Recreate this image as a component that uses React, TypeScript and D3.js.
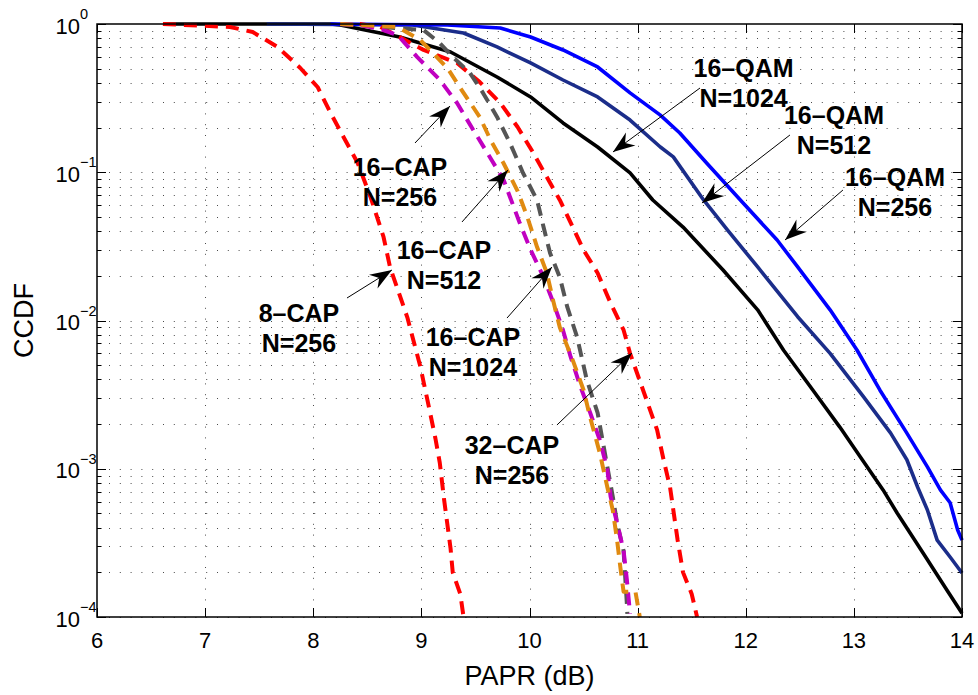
import React from 'react';
import * as d3 from 'd3';

// ---------- data ----------
const xTicks = [6, 7, 8, 9, 10, 11, 12, 13, 14];
const yTickExps = [0, -1, -2, -3, -4];

const qam256X = [8.16, 9.24, 9.73, 10.01, 10.31, 10.63, 10.93, 11.21, 11.39, 11.64, 11.95, 12.29, 12.48, 12.78, 13.03, 13.24, 13.49, 13.68, 13.8, 13.89, 13.96, 14.0];
const qam256Y = [1, 0.985, 0.94, 0.817, 0.668, 0.513, 0.343, 0.243, 0.184, 0.115, 0.065, 0.0349, 0.023, 0.0118, 0.0063, 0.0034, 0.00174, 0.00103, 0.00072, 0.00059, 0.000386, 0.00033];

const qam512X = [7.57, 8.92, 9.39, 9.7, 10.01, 10.31, 10.63, 10.93, 11.21, 11.33, 11.61, 11.83, 12.11, 12.48, 12.78, 13.09, 13.34, 13.49, 13.59, 13.68, 13.77, 13.89, 14.0];
const qam512Y = [1, 0.985, 0.87, 0.7, 0.546, 0.419, 0.322, 0.225, 0.148, 0.127, 0.065, 0.0408, 0.023, 0.0106, 0.006, 0.00305, 0.00174, 0.00115, 0.00075, 0.000527, 0.00033, 0.000254, 0.000198];

const qam1024X = [6.61, 8.16, 8.25, 8.8, 9.27, 9.7, 10.01, 10.31, 10.63, 10.93, 11.14, 11.42, 11.79, 12.11, 12.35, 12.62, 12.87, 13.06, 13.27, 13.4, 13.64, 13.86, 14.0];
const qam1024Y = [1, 1, 0.985, 0.817, 0.647, 0.439, 0.322, 0.215, 0.148, 0.0989, 0.065, 0.0427, 0.0219, 0.0118, 0.0063, 0.0034, 0.00191, 0.0012, 0.00072, 0.000503, 0.00027, 0.000152, 0.000106];

const cap8X = [6.61, 7.23, 7.44, 7.67, 7.88, 8.04, 8.16, 8.28, 8.41, 8.53, 8.65, 8.71, 8.87, 8.99, 9.08, 9.13, 9.17, 9.21, 9.27, 9.29, 9.36, 9.39];
const cap8Y = [1, 0.955, 0.883, 0.7, 0.505, 0.376, 0.251, 0.173, 0.116, 0.068, 0.0366, 0.0229, 0.0105, 0.0049, 0.0024, 0.0016, 0.0011, 0.00062, 0.00029, 0.0002, 0.000143, 0.0001];

const cap16n256X = [8.25, 8.43, 8.62, 8.78, 8.96, 9.17, 9.33, 9.48, 9.61, 9.76, 9.91, 10.01, 10.13, 10.22, 10.31, 10.38, 10.47, 10.56, 10.65, 10.72, 10.75, 10.81, 10.87, 10.9, 10.93];
const cap16n256Y = [1, 0.985, 0.925, 0.843, 0.6, 0.42, 0.293, 0.193, 0.135, 0.089, 0.0454, 0.03, 0.0196, 0.0132, 0.0086, 0.0057, 0.0036, 0.0024, 0.00156, 0.00099, 0.00065, 0.00043, 0.00028, 0.00018, 0.000105];

const cap16n512X = [8.25, 8.78, 8.99, 9.24, 9.39, 9.54, 9.64, 9.76, 9.89, 9.98, 10.07, 10.16, 10.22, 10.28, 10.4, 10.5, 10.56, 10.65, 10.72, 10.77, 10.81, 10.84, 10.87, 10.98, 11.02];
const cap16n512Y = [1, 0.955, 0.78, 0.505, 0.343, 0.236, 0.165, 0.115, 0.0747, 0.0499, 0.0313, 0.021, 0.0135, 0.009, 0.0054, 0.0034, 0.00223, 0.00128, 0.00075, 0.000527, 0.00033, 0.000217, 0.000148, 0.000148, 0.0001];

const cap16n1024X = [8.25, 9.02, 9.17, 9.29, 9.45, 9.57, 9.7, 9.82, 9.94, 10.07, 10.13, 10.19, 10.28, 10.35, 10.44, 10.53, 10.63, 10.72, 10.77, 10.81, 10.87, 10.9, 10.905];
const cap16n1024Y = [1, 0.911, 0.744, 0.6, 0.467, 0.343, 0.236, 0.157, 0.0989, 0.065, 0.0427, 0.0285, 0.0196, 0.0123, 0.00774, 0.00397, 0.00238, 0.00103, 0.00065, 0.00043, 0.00028, 0.000124, 0.000105];

const cap32X = [8.43, 8.62, 8.8, 9.02, 9.33, 9.54, 9.73, 9.89, 10.03, 10.16, 10.28, 10.4, 10.5, 10.63, 10.75, 10.87, 10.93, 11.05, 11.18, 11.24, 11.3, 11.37, 11.42, 11.5, 11.55];
const cap32Y = [1, 0.955, 0.817, 0.668, 0.546, 0.406, 0.293, 0.202, 0.137, 0.0929, 0.065, 0.0427, 0.0299, 0.0209, 0.0131, 0.00863, 0.006, 0.0034, 0.00183, 0.00115, 0.00075, 0.00033, 0.0002, 0.000143, 0.0001];

// annotation labels and anchor points in data coordinates
const annLines = [
  ['16–QAM', 'N=1024'],
  ['16–QAM', 'N=512'],
  ['16–QAM', 'N=256'],
  ['16–CAP', 'N=256'],
  ['16–CAP', 'N=512'],
  ['16–CAP', 'N=1024'],
  ['32–CAP', 'N=256'],
  ['8–CAP', 'N=256'],
];
const annTextX = [11.98, 12.816, 13.38, 8.802, 9.209, 9.477, 9.838, 7.868];
const annTextY = [0.505, 0.2433, 0.0929, 0.1085, 0.0299, 0.00774, 0.001446, 0.01123];
const annFromX = [11.577, 12.409, 12.899, 8.941, 9.376, 9.792, 10.254, 8.312];
const annFromY = [0.37, 0.1784, 0.0759, 0.1575, 0.0462, 0.01039, 0.001973, 0.01418];
const annToX = [10.772, 11.595, 12.363, 9.265, 9.801, 10.208, 10.948, 8.728];
const annToY = [0.137, 0.062, 0.0349, 0.2798, 0.1035, 0.02296, 0.006036, 0.02191];

// ---------- styles ----------
const series = [
  { x: qam1024X, y: qam1024Y, color: '#000000', dashed: false },
  { x: qam512X, y: qam512Y, color: '#1b2d8a', dashed: false },
  { x: qam256X, y: qam256Y, color: '#0000ff', dashed: false },
  { x: cap8X, y: cap8Y, color: '#ff0000', dashed: true },
  { x: cap32X, y: cap32Y, color: '#ff0000', dashed: true },
  { x: cap16n1024X, y: cap16n1024Y, color: '#555555', dashed: true },
  { x: cap16n256X, y: cap16n256Y, color: '#c000c0', dashed: true },
  { x: cap16n512X, y: cap16n512Y, color: '#e08a10', dashed: true },
];

const W = 978;
const H = 695;
const L = 97;
const R = 962;
const T = 24;
const B = 617;
const FONT = "'Liberation Sans', Arial, Helvetica, sans-serif";

export default function App() {
  const x = d3.scaleLinear().domain([6, 14]).range([L, R]);
  const y = d3.scaleLog().domain([1e-4, 1]).range([B, T]);

  const line = d3
    .line<[number, number]>()
    .x((d) => x(d[0]))
    .y((d) => y(d[1]))
    .curve(d3.curveLinear);

  const minorY: number[] = [];
  for (let k = -4; k < 0; k++) {
    for (let m = 1; m <= 9; m++) minorY.push(m * Math.pow(10, k));
  }

  const arrowHead = (x1: number, y1: number, x2: number, y2: number) => {
    const ang = Math.atan2(y2 - y1, x2 - x1);
    const len = 22;
    const w = 8;
    const notch = 15;
    const c = Math.cos(ang);
    const s = Math.sin(ang);
    const p = (a: number, b: number) => [x2 + a * c - b * s, y2 + a * s + b * c];
    const pts = [p(0, 0), p(-len, w), p(-notch, 0), p(-len, -w)];
    return 'M' + pts.map((q) => q[0].toFixed(2) + ',' + q[1].toFixed(2)).join('L') + 'Z';
  };

  return (
    <svg
      width={W}
      height={H}
      style={{ position: 'absolute', left: 0, top: 0, background: '#fff' }}
      fontFamily={FONT}
    >
      <rect x={0} y={0} width={W} height={H} fill="#fff" />
      {/* grid */}
      <g stroke="#000" strokeWidth={1} strokeDasharray="1 9.8" opacity={0.7}>
        {minorY.map((v, i) => {
          const yy = Math.round(y(v)) + 0.5;
          return <line key={'gy' + i} x1={L + 12} x2={R} y1={yy} y2={yy} />;
        })}
        {xTicks.slice(1, -1).map((v) => {
          const xx = Math.round(x(v)) + 0.5;
          return <line key={'gx' + v} x1={xx} x2={xx} y1={T + 3} y2={B} />;
        })}
      </g>
      {/* ticks */}
      <g stroke="#000" strokeWidth={1}>
        {xTicks.map((v) => {
          const xx = Math.round(x(v)) + 0.5;
          return (
            <g key={'tx' + v}>
              <line x1={xx} x2={xx} y1={B} y2={B - 9} />
              <line x1={xx} x2={xx} y1={T} y2={T + 9} />
            </g>
          );
        })}
        {minorY.concat([1]).map((v, i) => {
          const yy = Math.round(y(v)) + 0.5;
          const major = Math.abs(Math.log10(v) - Math.round(Math.log10(v))) < 1e-9;
          const len = major ? 9 : 4.5;
          return (
            <g key={'ty' + i}>
              <line x1={L} x2={L + len} y1={yy} y2={yy} />
              <line x1={R} x2={R - len} y1={yy} y2={yy} />
            </g>
          );
        })}
      </g>
      {/* curves */}
      {series.map((s, i) => {
        const pts = s.x.map((xv, j) => [xv, s.y[j]] as [number, number]);
        return (
          <path
            key={'s' + i}
            d={line(pts) || ''}
            fill="none"
            stroke={s.color}
            strokeWidth={s.dashed ? 4 : 3.6}
            strokeDasharray={s.dashed ? '13 8' : undefined}
            strokeLinejoin="round"
          />
        );
      })}
      {/* axes box */}
      <rect x={L} y={T} width={R - L} height={B - T} fill="none" stroke="#000" strokeWidth={1.5} />
      {/* x tick labels */}
      {xTicks.map((v) => (
        <text key={'lx' + v} x={x(v)} y={648} fontSize={22} textAnchor="middle" fill="#000">
          {v}
        </text>
      ))}
      {/* y tick labels */}
      {yTickExps.map((e) => {
        const yy = y(Math.pow(10, e));
        return (
          <g key={'ly' + e}>
            <text x={80} y={yy + 9.5} fontSize={22} textAnchor="end" fill="#000">
              10
            </text>
            <text x={80} y={yy - 5} fontSize={14.5} textAnchor="start" fill="#000">
              {e === 0 ? '0' : '\u2212' + Math.abs(e)}
            </text>
          </g>
        );
      })}
      {/* axis labels */}
      <text x={(L + R) / 2} y={685} fontSize={27} textAnchor="middle" fill="#000">
        PAPR (dB)
      </text>
      <text
        transform={`translate(33,${(T + B) / 2}) rotate(-90)`}
        fontSize={27}
        textAnchor="middle"
        fill="#000"
      >
        CCDF
      </text>
      {/* annotations */}
      {annLines.map((lines, i) => {
        const x1 = x(annFromX[i]);
        const y1 = y(annFromY[i]);
        const x2 = x(annToX[i]);
        const y2 = y(annToY[i]);
        const tx = x(annTextX[i]);
        const ty = y(annTextY[i]);
        return (
          <g key={'a' + i}>
            <line x1={x1} y1={y1} x2={x2} y2={y2} stroke="#000" strokeWidth={1} />
            <path d={arrowHead(x1, y1, x2, y2)} fill="#000" />
            {lines.map((t, j) => (
              <text
                key={j}
                x={tx}
                y={ty + 9 + j * 30}
                fontSize={25}
                fontWeight="bold"
                textAnchor="middle"
                fill="#000"
              >
                {t}
              </text>
            ))}
          </g>
        );
      })}
    </svg>
  );
}
